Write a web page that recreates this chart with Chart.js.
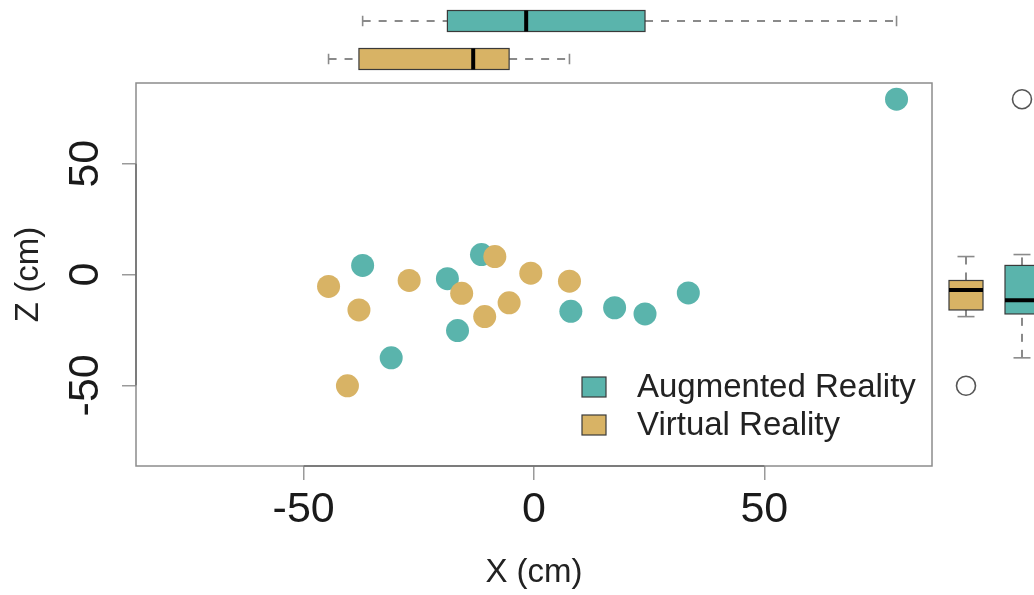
<!DOCTYPE html>
<html>
<head>
<meta charset="utf-8">
<script src="https://cdn.jsdelivr.net/npm/chart.js@4.4.1/dist/chart.umd.min.js"></script>
<style>
html, body { margin: 0; padding: 0; background: #fff; }
#wrap { width: 1034px; height: 595px; }
</style>
</head>
<body>
<div id="wrap"><canvas id="myChart" width="1034" height="595"></canvas></div>
<script>
// datos (cm)
var grupos = ["Augmented Reality", "Virtual Reality"];
var colores = ["#5AB4AC", "#D8B365"];

var arX = [-37.2, -18.8, -11.4, -16.6, -31.0, 8.0, 17.5, 24.1, 33.5, 78.7];
var arZ = [4.1, -1.9, 9.0, -25.3, -37.6, -16.6, -15.0, -17.8, -8.3, 79.1];

var vrX = [-44.6, -38.0, -27.1, -15.7, -8.5, -10.7, -5.4, -0.7, 7.7, -40.5];
var vrZ = [-5.4, -16.0, -2.7, -8.5, 8.1, -19.0, -12.8, 0.6, -3.0, -50.2];

var xTicks = [-50, 0, 50];
var zTicks = [-50, 0, 50];
var limite = 86.4;

var fuente = "'Liberation Sans', Arial, Helvetica, sans-serif";

function puntos(xs, zs)
{
    var out = [];
    for (var i = 0; i < xs.length; i++) {
        out.push({x: xs[i], y: zs[i]});
    }
    return out;
}

// cinco numeros de Tukey, como boxplot() de R
function fivenum(v)
{
    var x = v.slice().sort(function(a, b) { return a - b; });
    var n = x.length;
    var n4 = Math.floor((n + 3) / 2) / 2;
    var d = [1, n4, (n + 1) / 2, n + 1 - n4, n];
    return d.map(function(k) {
        return 0.5 * (x[Math.floor(k) - 1] + x[Math.ceil(k) - 1]);
    });
}

function boxStats(v)
{
    var f = fivenum(v);
    var iqr = f[3] - f[1];
    var bajo = f[1] - 1.5 * iqr, alto = f[3] + 1.5 * iqr;
    var dentro = v.filter(function(a) { return a >= bajo && a <= alto; });
    return {
        lo: Math.min.apply(null, dentro),
        q1: f[1], med: f[2], q3: f[3],
        hi: Math.max.apply(null, dentro),
        out: v.filter(function(a) { return a < bajo || a > alto; })
    };
}

function linea(ctx, x1, y1, x2, y2)
{
    ctx.beginPath();
    ctx.moveTo(x1, y1);
    ctx.lineTo(x2, y2);
    ctx.stroke();
}

// dibuja una caja; horizontal = usa la escala x, si no la escala y
function caja(ctx, escala, st, centro, medio, color, horizontal)
{
    function p(v, c) {
        var px = escala.getPixelForValue(v);
        return horizontal ? [px, centro + c] : [centro + c, px];
    }
    var a, b;
    ctx.strokeStyle = "#8a8a8a";
    ctx.lineWidth = 2;
    ctx.setLineDash([8, 8]);
    a = p(st.lo, 0); b = p(st.q1, 0); linea(ctx, a[0], a[1], b[0], b[1]);
    a = p(st.q3, 0); b = p(st.hi, 0); linea(ctx, a[0], a[1], b[0], b[1]);
    ctx.setLineDash([]);
    ctx.lineWidth = 1.6;
    a = p(st.lo, -medio / 2); b = p(st.lo, medio / 2); linea(ctx, a[0], a[1], b[0], b[1]);
    a = p(st.hi, -medio / 2); b = p(st.hi, medio / 2); linea(ctx, a[0], a[1], b[0], b[1]);

    a = p(st.q1, -medio); b = p(st.q3, medio);
    var x0 = Math.min(a[0], b[0]), y0 = Math.min(a[1], b[1]);
    var w = Math.abs(b[0] - a[0]), h = Math.abs(b[1] - a[1]);
    ctx.fillStyle = color;
    ctx.fillRect(x0, y0, w, h);
    ctx.strokeStyle = "#3a3a3a";
    ctx.lineWidth = 1.2;
    ctx.strokeRect(x0, y0, w, h);

    ctx.strokeStyle = "#000";
    ctx.lineWidth = 4;
    a = p(st.med, -medio); b = p(st.med, medio); linea(ctx, a[0], a[1], b[0], b[1]);

    ctx.strokeStyle = "#555";
    ctx.lineWidth = 1.6;
    st.out.forEach(function(v) {
        var c = p(v, 0);
        ctx.beginPath();
        ctx.arc(c[0], c[1], 9.5, 0, 2 * Math.PI);
        ctx.stroke();
    });
}

var extras = {
    id: 'extras',
    afterDraw: function(chart)
    {
        var ctx = chart.ctx;
        var a = chart.chartArea;
        var sx = chart.scales.x, sy = chart.scales.y;
        ctx.save();

        // marco del grafico
        ctx.strokeStyle = "#8c8c8c";
        ctx.lineWidth = 1.5;
        ctx.strokeRect(a.left, a.top, a.right - a.left, a.bottom - a.top);

        // linea del eje entre el primer y ultimo tick
        ctx.strokeStyle = "#6e6e6e";
        ctx.lineWidth = 1.5;
        linea(ctx, sx.getPixelForValue(xTicks[0]), a.bottom, sx.getPixelForValue(xTicks[xTicks.length - 1]), a.bottom);
        linea(ctx, a.left, sy.getPixelForValue(zTicks[0]), a.left, sy.getPixelForValue(zTicks[zTicks.length - 1]));

        // cajas marginales
        caja(ctx, sx, boxStats(arX), 21, 10.5, colores[0], true);
        caja(ctx, sx, boxStats(vrX), 59, 10.5, colores[1], true);
        caja(ctx, sy, boxStats(vrZ), 966, 17, colores[1], false);
        caja(ctx, sy, boxStats(arZ), 1022, 17, colores[0], false);

        // leyenda
        ctx.font = "33px " + fuente;
        ctx.textBaseline = "alphabetic";
        ctx.textAlign = "left";
        for (var i = 0; i < grupos.length; i++) {
            var yb = 397 + i * 38;
            ctx.fillStyle = colores[i];
            ctx.fillRect(582, yb - 20, 24, 20);
            ctx.strokeStyle = "#3a3a3a";
            ctx.lineWidth = 1.2;
            ctx.strokeRect(582, yb - 20, 24, 20);
            ctx.fillStyle = "#222";
            ctx.fillText(grupos[i], 637, yb);
        }
        ctx.restore();
    }
};

var ctx = document.getElementById("myChart").getContext('2d');
var myChart = new Chart(ctx, {
    type: 'scatter',
    data: {
        datasets: [{
            label: grupos[0],
            data: puntos(arX, arZ),
            backgroundColor: colores[0],
            borderWidth: 0,
            pointRadius: 11.5,
            order: 2
        }, {
            label: grupos[1],
            data: puntos(vrX, vrZ),
            backgroundColor: colores[1],
            borderWidth: 0,
            pointRadius: 11.5,
            order: 1
        }]
    },
    options: {
        responsive: false,
        animation: false,
        devicePixelRatio: 1,
        layout: { padding: { top: 83, right: 102, left: 0, bottom: 0 } },
        plugins: {
            legend: { display: false },
            tooltip: { enabled: false }
        },
        scales: {
            x: {
                type: 'linear',
                min: -limite,
                max: limite,
                afterBuildTicks: function(s) { s.ticks = xTicks.map(function(v) { return {value: v}; }); },
                afterFit: function(s) { s.height = 129; },
                border: { display: false },
                grid: { drawOnChartArea: false, drawTicks: true, tickLength: 14, color: "#9a9a9a", lineWidth: 1.5 },
                ticks: { color: "#1a1a1a", padding: 4, maxRotation: 0, font: { family: fuente, size: 43 } },
                title: { display: true, text: "X (cm)", color: "#222", padding: { top: 0, bottom: 6 }, font: { family: fuente, size: 33, lineHeight: 1 } }
            },
            y: {
                type: 'linear',
                min: -limite,
                max: limite,
                afterBuildTicks: function(s) { s.ticks = zTicks.map(function(v) { return {value: v}; }); },
                afterFit: function(s) { s.width = 136; },
                border: { display: false },
                grid: { drawOnChartArea: false, drawTicks: true, tickLength: 14, color: "#9a9a9a", lineWidth: 1.5 },
                ticks: { color: "#1a1a1a", padding: 5, minRotation: 90, maxRotation: 90, crossAlign: 'center', font: { family: fuente, size: 43 } },
                title: { display: true, text: "Z (cm)", color: "#222", padding: { top: 12, bottom: 0 }, font: { family: fuente, size: 33, lineHeight: 1 } }
            }
        }
    },
    plugins: [extras]
});
</script>
</body>
</html>
